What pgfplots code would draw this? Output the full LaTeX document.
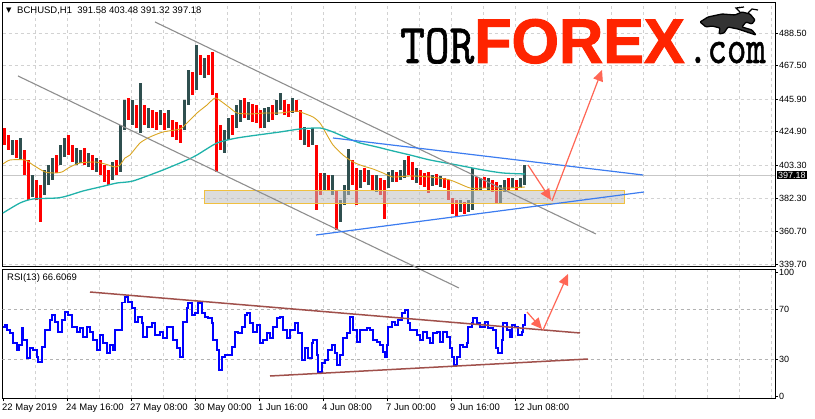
\documentclass[border=0pt]{standalone}
\usepackage{fontspec}
\setmainfont{Liberation Sans}
\newfontfamily\symfont{DejaVu Sans}
\newfontfamily\forexfont{Liberation Sans}[BoldFeatures={FakeBold=1.6}]
\newfontfamily\torfont{lmmono10-regular.otf}[FakeBold=1.2]
\usepackage{pgfplots}
\pgfplotsset{compat=1.18}
\usepackage{pgfplotstable}
\usetikzlibrary{arrows.meta}

\definecolor{upc}{HTML}{2F4F4F}
\definecolor{dnc}{HTML}{FF0000}
\definecolor{gridc}{HTML}{D2D2D2}
\definecolor{maorange}{HTML}{DAA520}
\definecolor{mateal}{HTML}{20B2AA}
\definecolor{chgrey}{HTML}{8E8E8E}
\definecolor{tlblue}{HTML}{3C7CF0}
\definecolor{arrowred}{HTML}{FF6655}
\definecolor{rsitl}{HTML}{A0504B}
\definecolor{forexred}{HTML}{FF2400}
\definecolor{boxedge}{HTML}{F0C040}
\definecolor{rsiblue}{HTML}{0000FF}

\pgfplotstableread{
h hi lo
0 427.39 416.46
4 422.89 413.24
12 419.67 408.09
20 413.24 397.16
24 406.81 381.07
32 393.94 381.07
36 390.72 366.92
52 410.02 398.44
64 422.89 410.02
68 416.46 405.52
80 414.53 403.59
88 410.02 400.37
96 406.81 397.16
100 403.59 392.65
104 400.37 390.72
112 406.81 397.16
124 446.69 432.54
132 442.19 427.39
140 442.19 429.32
148 438.97 427.39
152 437.69 426.11
160 437.04 426.11
168 432.54 421.60
172 431.25 419.67
176 429.32 417.74
188 463.42 448.62
196 474.36 461.49
204 474.36 461.49
208 476.29 448.62
212 449.91 399.09
216 429.32 413.24
228 435.76 422.89
240 446.69 433.83
248 442.83 431.25
252 442.19 430.61
256 438.97 427.39
268 442.19 432.54
280 445.41 435.76
284 442.83 434.47
292 445.41 437.69
296 438.97 419.67
304 426.11 415.17
312 416.46 374.64
316 398.44 384.29
324 397.16 387.51
332 387.51 361.77
348 406.81 390.72
352 401.66 377.86
360 401.66 392.65
368 397.16 387.51
376 395.23 384.29
380 393.94 368.85
392 399.09 392.65
404 409.38 397.16
408 405.52 393.94
416 400.37 390.72
420 398.44 389.43
424 399.09 385.58
432 397.80 390.72
440 395.23 388.79
444 393.94 381.07
448 382.36 372.07
452 381.07 370.78
460 379.79 372.07
472 395.87 387.51
480 395.87 388.79
488 393.94 386.22
492 392.65 379.14
504 395.23 387.51
512 393.94 387.51
}\dncandles

\pgfplotstableread{
h hi lo
8 419.67 410.02
16 420.96 406.81
28 397.16 383.00
40 400.37 384.29
44 403.59 390.72
48 408.09 393.94
56 416.46 403.59
60 420.96 408.74
72 414.53 403.59
76 413.24 404.88
84 411.31 402.30
92 408.09 399.09
108 405.52 393.94
116 429.32 399.09
120 445.41 426.11
128 445.41 429.32
136 456.34 424.18
144 440.26 427.39
156 438.97 429.32
164 438.97 427.39
180 445.41 426.11
184 464.71 442.19
192 480.79 451.84
200 472.43 459.56
220 426.11 411.31
224 433.83 419.67
232 442.19 427.39
236 445.41 431.25
244 444.12 432.54
260 440.26 427.39
264 440.90 431.25
272 445.41 435.76
276 449.91 438.97
288 446.69 437.04
300 428.04 416.46
308 427.39 416.46
320 398.44 387.51
328 397.16 384.29
336 381.07 366.92
340 390.72 377.86
344 413.88 384.29
356 400.37 388.79
364 400.37 390.72
372 397.16 386.22
384 399.09 388.79
388 400.37 392.65
396 400.37 393.94
400 406.81 395.23
412 401.66 392.01
428 397.16 390.08
436 396.51 389.43
456 381.07 373.35
464 381.07 373.35
468 401.66 374.64
476 395.23 387.51
484 395.23 387.51
496 390.72 378.50
500 393.94 386.22
508 395.23 388.79
516 395.23 388.79
520 403.59 390.72
}\upcandles

\pgfplotstableread{
h rsi
0 56.0
2 57.4
4 53.3
7 51.0
10 42.9
14 37.3
16 41.3
19 55.0
20 45.3
24 30.8
27 38.9
30 37.3
34 31.6
35 27.6
39 39.7
42 53.3
47 61.4
49 65.4
52 59.8
55 51.7
59 61.4
62 67.8
65 65.4
69 55.8
74 51.7
77 55.0
80 47.7
84 55.8
87 51.7
90 45.3
94 37.3
97 49.3
100 42.9
104 34.8
107 41.3
110 37.3
112 53.3
115 53.3
119 75.5
122 79.9
125 75.9
129 71.1
132 59.8
135 63.8
139 59.0
140 47.7
144 55.8
149 59.0
152 49.3
157 51.7
160 46.9
164 55.8
167 55.8
170 45.3
174 38.9
177 31.6
180 59.8
184 71.1
185 75.1
189 65.4
192 67.0
195 75.1
199 67.0
202 63.8
205 63.0
209 59.0
210 45.3
214 37.3
216 21.2
219 31.6
222 33.2
225 33.2
229 39.7
232 51.7
235 50.9
239 55.8
242 65.4
244 67.0
247 59.0
250 51.7
254 57.4
257 42.9
260 45.3
264 50.9
267 46.9
270 55.8
274 63.0
277 63.8
280 53.3
284 46.9
287 53.3
292 59.0
295 50.9
299 29.2
302 38.9
305 30.8
309 42.9
310 45.3
314 33.2
315 19.5
319 26.8
322 29.2
325 37.3
329 41.3
332 34.8
334 25.2
337 33.2
340 46.9
344 50.9
347 63.8
350 53.3
354 43.7
357 53.3
360 53.3
364 55.0
367 53.3
370 45.3
374 43.7
377 41.3
380 35.7
382 31.6
384 41.3
385 55.8
389 59.8
392 57.4
395 61.4
399 67.0
402 69.4
404 69.4
405 59.0
407 53.3
410 53.3
414 49.3
417 45.3
420 51.7
424 46.9
427 42.9
430 50.9
434 51.7
437 43.7
440 51.7
444 47.7
447 38.9
449 31.6
451 25.2
454 31.6
457 41.3
460 39.7
464 42.9
465 55.8
469 59.0
470 63.0
474 59.0
477 55.8
482 59.8
485 55.0
490 53.3
493 38.9
495 34.8
499 45.3
500 59.0
504 53.3
507 47.7
509 57.4
512 55.8
515 49.3
519 51.7
520 57.4
522 66.6
}\rsidata

\tikzset{mtgrid/.style={gridc, dash pattern=on 3pt off 3pt, line width=1pt}}
\pgfplotsset{
  candle/.style={draw=none, mark=none, forget plot,
    error bars/.cd, y dir=both, y explicit, error mark=none,
    error bar style={line width=3.2pt, draw=#1, solid}},
}

\begin{document}
\begin{tikzpicture}[x=1pt,y=1pt]
\useasboundingbox (0,0) rectangle (815,419);

% vertical grid (every 32 hours), centred on pixel columns
\foreach \gx in {35.5,67.5,...,771.5} {
  \draw[mtgrid] (\gx,152.3) -- (\gx,416.3);
  \draw[mtgrid] (\gx,20.7) -- (\gx,149.7);
}

% ---------------- main price panel ----------------
\begin{axis}[
  at={(2.5pt,152.3pt)}, anchor=south west,
  scale only axis, width=772.5pt, height=264pt,
  xmin=-0.5, xmax=772, ymin=338.16, ymax=508.0,
  clip=false,
  axis line style={black, line width=0.9pt},
  xtick=\empty,
  ymajorgrids, major grid style={mtgrid},
  ytick={339.7,360.7,382.3,403.3,424.9,445.9,467.5,488.5},
  yticklabels={339.70,360.70,382.30,403.30,424.90,445.90,467.50,488.50},
  ytick pos=right, yticklabel pos=right,
  tick align=outside, major tick length=3pt,
  ytick style={black, line width=0.8pt},
  yticklabel style={font=\fontsize{9}{10}\selectfont, anchor=west, inner sep=0pt, xshift=1pt},
]
% current price line
\addplot[color=black!22, line width=0.9pt, forget plot] coordinates {(-0.5,397.18) (772,397.18)};
% candles
\addplot[candle=dnc] table[x expr=\thisrow{h}+1.5, y expr=(\thisrow{hi}+\thisrow{lo})/2, y error expr=(\thisrow{hi}-\thisrow{lo})/2] {\dncandles};
\addplot[candle=upc] table[x expr=\thisrow{h}+1.5, y expr=(\thisrow{hi}+\thisrow{lo})/2, y error expr=(\thisrow{hi}-\thisrow{lo})/2] {\upcandles};
% moving averages
\addplot[maorange, line width=0.9pt, smooth, tension=0.4] coordinates {
(0,404.23) (7,406.81) (22,406.81) (30,403.59) (42,399.09) (52,398.44) (59,399.09)
(67,402.30) (77,404.88) (92,405.52) (102,404.23) (112,402.30) (117,403.59) (122,408.09)
(127,410.02) (137,417.74) (147,421.60) (160,424.82) (177,426.75) (184,430.61) (194,437.04)
(204,442.19) (212,446.69) (219,444.12) (227,440.26) (234,437.04) (247,436.40) (262,437.04)
(277,437.04) (294,438.33) (300,437.04) (310,434.47) (317,430.61) (324,422.89) (330,416.46)
(340,410.02) (350,405.52) (360,402.95) (370,401.02) (380,398.44) (390,395.87) (407,396.51)
(427,395.87) (447,393.94) (467,388.79) (480,388.79) (494,388.79) (507,388.79) (522,389.43)};
\addplot[mateal, line width=1.3pt, smooth, tension=0.4] coordinates {
(0,372.71) (17,379.14) (30,381.72) (54,382.36) (64,383.65) (80,386.86) (97,389.43)
(114,392.01) (130,393.30) (160,400.37) (184,406.81) (194,410.02) (214,417.74) (234,420.96)
(262,423.53) (277,424.82) (297,426.75) (317,427.39) (330,424.82) (344,420.96) (357,417.74)
(374,415.17) (390,412.60) (407,410.02) (427,406.81) (454,403.59) (480,400.37) (500,398.44)
(522,397.80)};
% zone box
\addplot[draw=boxedge, line width=0.9pt, fill=black!25, fill opacity=0.55] coordinates {
(201,378.94) (621,378.94) (621,387.05) (201,387.05)} -- cycle;
% channel lines
\addplot[chgrey, line width=1.1pt] coordinates {(152,495.59) (593,359.20)};
\addplot[chgrey, line width=1.1pt] coordinates {(15,460.85) (456,324.46)};
% triangle lines
\addplot[tlblue, line width=1.2pt] coordinates {(330,420.96) (640,397.16)};
\addplot[tlblue, line width=1.2pt] coordinates {(313,358.55) (641,386.22)};
% arrows
\addplot[arrowred, line width=1.2pt, -{Triangle[length=11pt,width=10pt]}] coordinates {(525,403.59) (548,381.07)};
\addplot[arrowred, line width=1.2pt, -{Triangle[length=11pt,width=10pt]}] coordinates {(549,380.43) (599,464.71)};
% price tag
\node[fill=black, text=white, inner xsep=1.5pt, inner ysep=1pt, anchor=west,
      font=\fontsize{9}{10}\selectfont] at (axis cs:773.5,397.18) {397.18};
\end{axis}

% ---------------- RSI panel ----------------
\begin{axis}[
  at={(2.5pt,20.7pt)}, anchor=south west,
  scale only axis, width=772.5pt, height=129pt,
  xmin=-0.5, xmax=772, ymin=-1.62, ymax=102.2,
  axis line style={black, line width=0.9pt},
  xtick={0,64,...,512},
  xticklabels={22 May 2019,24 May 16:00,27 May 08:00,30 May 00:00,1 Jun 16:00,4 Jun 08:00,7 Jun 00:00,9 Jun 16:00,12 Jun 08:00},
  xticklabel style={font=\fontsize{9.5}{11}\selectfont, anchor=north west, inner sep=0pt, xshift=-1pt, yshift=-2pt},
  ytick={0,30,70,100}, yticklabels={0,30,70,100},
  xtick pos=bottom, ytick pos=right, yticklabel pos=right,
  tick align=outside, major tick length=3pt,
  tick style={black, line width=0.8pt},
  yticklabel style={font=\fontsize{9}{10}\selectfont, anchor=west, inner sep=0pt, xshift=1pt},
]
\addplot[black!30, dash pattern=on 3pt off 3pt, line width=0.9pt, forget plot] coordinates {(-0.5,70) (772,70)};
\addplot[black!30, dash pattern=on 3pt off 3pt, line width=0.9pt, forget plot] coordinates {(-0.5,30) (772,30)};
\addplot[rsiblue, line width=1.8pt, const plot] table[x=h, y=rsi] {\rsidata};
\addplot[rsitl, line width=1.5pt] coordinates {(87,83.92) (577,50.93)};
\addplot[rsitl, line width=1.5pt] coordinates {(267,16.32) (585,30.0)};
\addplot[arrowred, line width=1.2pt, -{Triangle[length=11pt,width=10pt]}] coordinates {(524,67.83) (539,54.15)};
\addplot[arrowred, line width=1.2pt, -{Triangle[length=11pt,width=10pt]}] coordinates {(540,53.34) (565,98.41)};
\end{axis}

% ---------------- texts and logo ----------------
\node[anchor=west, inner sep=0pt, font=\symfont\fontsize{7}{8}\selectfont] at (6,408) {▼};
\node[anchor=west, inner sep=0pt, font=\fontsize{9.5}{11}\selectfont] at (17,408) {BCHUSD,H1\ \ 391.58 403.48 391.32 397.18};
\node[anchor=west, inner sep=0pt, font=\fontsize{9.5}{11}\selectfont] at (7,140.5) {RSI(13) 66.6069};

\node[anchor=base west, inner sep=0pt] at (400,356) {\scalebox{0.84}[1]{\torfont\fontsize{56}{56}\selectfont TOR}};
\node[anchor=base west, inner sep=0pt, text=forexred] at (474,356) {\scalebox{0.97}[1]{\forexfont\bfseries\fontsize{63}{63}\selectfont FOREX}};
\node[anchor=base west, inner sep=0pt] at (688,356) {\scalebox{0.77}[1]{\torfont\fontsize{48}{48}\selectfont .com}};
% bull icon
\draw[black, line width=1.3pt, fill=black!80, rounded corners=1pt]
  (700,397) -- (708,402) -- (722,405) -- (735,404) -- (742,407) -- (750,405) -- (755,399)
  -- (752,395) -- (746,397) -- (742,392) -- (752,389) -- (756,384) -- (750,386) -- (738,390)
  -- (728,392) -- (724,386) -- (719,385) -- (720,391) -- (712,393) -- (706,392) -- cycle;
\draw[black, line width=1.2pt] (740,407) -- (736,411) -- (744,412);
\draw[black, line width=1.2pt] (748,406) -- (752,410) -- (758,409);
\end{tikzpicture}
\end{document}
